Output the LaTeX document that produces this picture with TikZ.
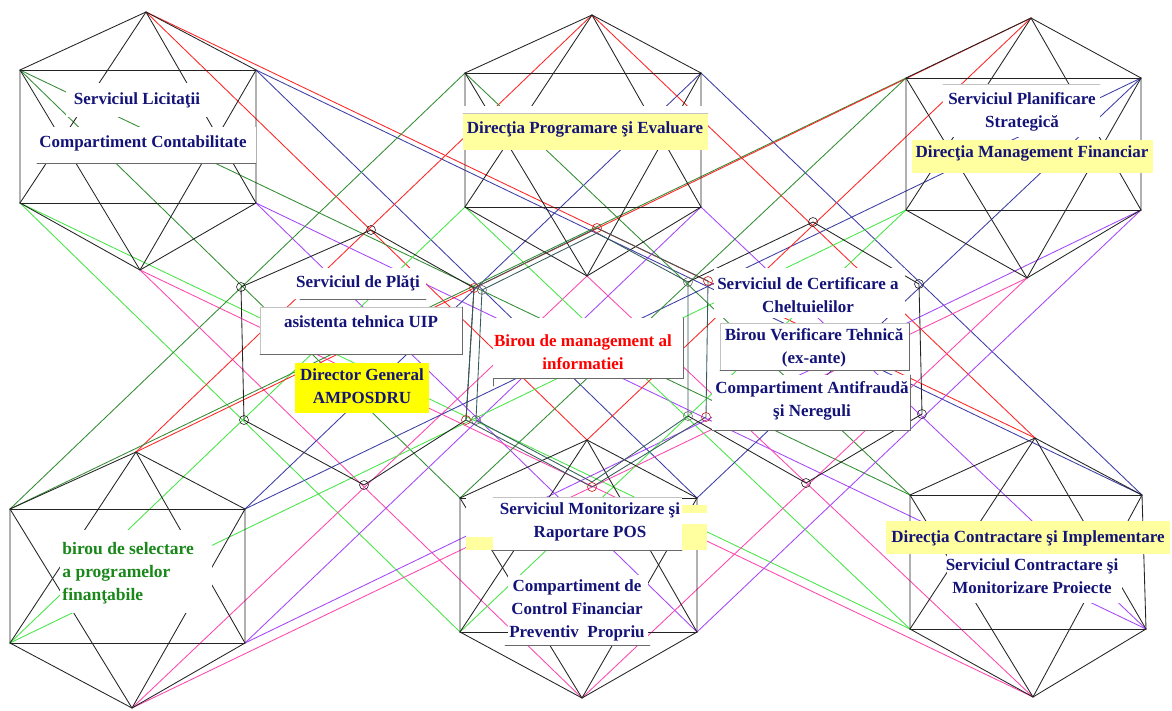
\documentclass[tikz,border=0pt]{standalone}
\usepackage{fontspec}
\setmainfont{Liberation Serif}
\definecolor{lnred}{RGB}{255,35,35}
\definecolor{lnnavy}{RGB}{60,60,165}
\definecolor{lndgreen}{RGB}{50,140,50}
\definecolor{lnlgreen}{RGB}{70,230,70}
\definecolor{lnpurple}{RGB}{165,70,250}
\definecolor{lnmag}{RGB}{255,70,175}
\definecolor{lnblack}{RGB}{35,35,35}
\definecolor{hexteal}{RGB}{55,90,90}
\definecolor{txtnavy}{RGB}{20,20,120}
\definecolor{txtgreen}{RGB}{25,135,25}
\definecolor{paleyel}{RGB}{255,255,160}
\definecolor{brightyel}{RGB}{255,255,0}
\definecolor{rimlight}{RGB}{195,195,195}
\definecolor{rimdark}{RGB}{105,105,105}
\begin{document}
\begin{tikzpicture}[x=1pt,y=-1pt,line width=0.85pt,line cap=round,
  blk/.style={draw=lnblack},
  lbl/.style={font=\fontsize{17}{23}\selectfont\bfseries,text=txtnavy,align=center,inner sep=0pt},
  glbl/.style={font=\fontsize{17.5}{23}\selectfont\bfseries,text=txtgreen,align=left,inner sep=0pt},
  rlbl/.style={font=\fontsize{17}{23}\selectfont\bfseries,text=red,align=center,inner sep=0pt},
  wbox/.style={fill=white,inner sep=0pt,outer sep=0pt},
  ybox/.style={fill=paleyel,inner sep=0pt,outer sep=0pt},
  vbox/.style={fill=brightyel,inner sep=0pt,outer sep=0pt},
  rim/.style={draw=rimdark,line width=0.9pt},
  rimlt/.style={draw=rimlight,line width=0.9pt},
  vtx/.style={line width=0.6pt},
]
\useasboundingbox (0,0) rectangle (1172,711);
\fill[white] (0,0) rectangle (1172,711);

% ---- vertices of the six outer units (apexes and box corners) ----
% A top-left, B top-middle, C top-right, D bottom-left, E bottom-middle, F bottom-right
\coordinate (At)  at (146,12);  \coordinate (ATL) at (20,70);   \coordinate (ATR) at (256,70);
\coordinate (ABL) at (20,203);  \coordinate (ABR) at (256,203); \coordinate (Ab)  at (140,270);
\coordinate (Bt)  at (592,15);  \coordinate (BTL) at (465,73);  \coordinate (BTR) at (701,73);
\coordinate (BBL) at (465,207); \coordinate (BBR) at (701,207); \coordinate (Bb)  at (587,276);
\coordinate (Ct)  at (1031,18); \coordinate (CTL) at (906,78);  \coordinate (CTR) at (1141,78);
\coordinate (CBL) at (906,210); \coordinate (CBR) at (1141,210);\coordinate (Cb)  at (1027,278);
\coordinate (Dt)  at (136,452); \coordinate (DTL) at (10,509);  \coordinate (DTR) at (245,509);
\coordinate (DBL) at (10,643);  \coordinate (DBR) at (245,643); \coordinate (Db)  at (132,708);
\coordinate (Et)  at (587,440); \coordinate (ETL) at (460,498); \coordinate (ETR) at (697,498);
\coordinate (EBL) at (460,632); \coordinate (EBR) at (697,632); \coordinate (Eb)  at (582,698);
\coordinate (Ft)  at (1035,438);\coordinate (FTL) at (910,495); \coordinate (FTR) at (1142,495);
\coordinate (FBL) at (910,629); \coordinate (FBR) at (1146,629);\coordinate (Fb)  at (1033,697);

% ---- cross links between the upper and the lower row, one colour per vertex ----
\foreach \ta/\bo in {A/E,A/F,B/D,B/F,C/D,C/E}{
  \draw[lndgreen] (\ta TL) -- (\bo TL);
  \draw[lnlgreen] (\ta BL) -- (\bo BL);
  \draw[lnpurple] (\ta BR) -- (\bo BR);
  \draw[lnnavy]   (\ta TR) -- (\bo TR);
  \draw[lnmag]    (\ta b) -- (\bo b);
  \draw[lnred]    (\ta t) -- (\bo t);
}

% ---- the six star-hexagon units ----
\foreach \un in {A,B,C,D,E,F}{
  \draw[blk] (\un t) -- (\un TL) -- (\un BL) -- (\un b) -- (\un BR) -- (\un TR) -- cycle;
  \draw[blk] (\un TL) -- (\un TR);
  \draw[blk] (\un BL) -- (\un BR);
  \draw[blk] (\un t) -- (\un BL);
  \draw[blk] (\un t) -- (\un BR);
  \draw[blk] (\un b) -- (\un TL);
  \draw[blk] (\un b) -- (\un TR);
}

% ---- central hexagons ----
\coordinate (L1) at (241,287); \coordinate (L2) at (371,230); \coordinate (L3) at (364,485); \coordinate (L4) at (244,420);
\coordinate (M1) at (474,288); \coordinate (M2) at (597,228); \coordinate (M3) at (708,281);
\coordinate (M4) at (706,417); \coordinate (M5) at (592,487); \coordinate (M6) at (466,420);
\coordinate (N1) at (482,290); \coordinate (N2) at (597,233); \coordinate (N3) at (688,282);
\coordinate (N4) at (688,416); \coordinate (N5) at (592,482); \coordinate (N6) at (476,420);
\coordinate (R1) at (813,222); \coordinate (R2) at (919,284); \coordinate (R3) at (922,414); \coordinate (R4) at (806,483);

\draw[blk] (L1) -- (L2) -- (M1) -- (M6) -- (L3) -- (L4) -- cycle;
\draw[draw=hexteal] (M1) -- (M2) -- (M3) -- (M4) -- (M5) -- (M6) -- cycle;
\draw[draw=hexteal] (N1) -- (N2) -- (N3) -- (N4) -- (N5) -- (N6) -- cycle;
\draw[blk] (N3) -- (R1) -- (R2) -- (R3) -- (R4) -- (N4);
\foreach \c in {L1,L2,L3,L4,R1,R2,R3,R4}{\draw[blk,vtx] (\c) circle (4.5);}
\foreach \c in {M1,M2,M3,M4,M5,M6}{\draw[draw=lnred!80!black,vtx] (\c) circle (4.5);}
\foreach \c in {N1,N3,N4,N6}{\draw[draw=rimdark,vtx] (\c) circle (4.5);}

% ---- label backgrounds ----
% top-left unit
\node[wbox,minimum width=146,minimum height=34] (licbg) at (139,100) {};
\node[wbox,minimum width=219,minimum height=36] (contbg) at (146.5,145) {};
% top-middle unit
\fill[white] (463,106) rectangle (708,113);
\node[ybox,minimum width=245,minimum height=37] (progbg) at (585.5,131.5) {};
% top-right unit
\node[wbox,minimum width=157,minimum height=53] (planbg) at (1021.5,110.5) {};
\node[ybox,minimum width=241,minimum height=33] (finbg) at (1032.5,156.5) {};
% bottom-left unit
\node[wbox,minimum width=152,minimum height=83] (selbg) at (136,571.5) {};
% bottom-middle unit
\node[ybox,minimum width=241,minimum height=45] (monyel) at (586.5,527.5) {};
\fill[white] (466,497) rectangle (493,537);
\fill[white] (682,513) rectangle (707,524);
\node[wbox,minimum width=189,minimum height=53] (monbg) at (587.5,523.5) {};
\node[wbox,minimum width=140,minimum height=70] (ctrlbg) at (578,610) {};
% bottom-right unit
\node[ybox,minimum width=284,minimum height=33] (impbg) at (1028,537.5) {};
\node[wbox,minimum width=175,minimum height=49] (cmpbg) at (1034.5,578.5) {};
% centre
\node[wbox,minimum width=136,minimum height=31] (platbg) at (358,283.5) {};
\node[wbox,minimum width=202,minimum height=47] (uipbg) at (361,330.5) {};
\node[vbox,minimum width=134,minimum height=50] (dirbg) at (362,388) {};
\node[wbox,minimum width=190,minimum height=60] (infbg) at (588,348) {};
\node[wbox,minimum width=191,minimum height=50] (certbg) at (809.5,293) {};
\node[wbox,minimum width=189,minimum height=47] (verbg) at (814.5,346.5) {};
\node[wbox,minimum width=198,minimum height=55] (frdbg) at (811,402.5) {};

% ---- rims and rules of the label panels ----
\draw[rim] (contbg.south west) -- (contbg.south east);
\draw[rimlt] (progbg.north west) -- (progbg.north east);
\draw[rimlt] (planbg.north west) -- (planbg.north east);
\draw[rimlt] (monbg.north west) -- (monbg.north east);
\draw[rim] (monbg.south west) -- (monbg.south east);
\draw[rim] ([xshift=-3]ctrlbg.south west) -- ([xshift=2]ctrlbg.south east);
\draw[rim] ([xshift=10]platbg.south west) -- (platbg.south east);
\draw[rimlt] (uipbg.south west) -- (uipbg.north west) -- (uipbg.north east);
\draw[rim] (uipbg.north east) -- (uipbg.south east) -- (uipbg.south west);
\draw[rim] (infbg.north east) -- (infbg.south east) -- (infbg.south west) -- ([yshift=-8]infbg.south west);
\draw[rimlt] (verbg.south west) -- (verbg.north west) -- (verbg.north east);
\draw[rim] (verbg.north east) -- (verbg.south east) -- (verbg.south west);
\draw[rim] (frdbg.north east) -- (frdbg.south east) -- (frdbg.south west);

% ---- labels ----
\node[lbl] (lic) at (137,100) {Serviciul Licitaţii};
\node[lbl] (cont) at (143,143) {Compartiment Contabilitate};
\node[lbl] (prog) at (585,129) {Direcţia Programare şi Evaluare};
\node[lbl] (plan) at (1022,112) {Serviciul Planificare\\Strategică};
\node[lbl] (fin) at (1032,153) {Direcţia Management Financiar};
\node[glbl,anchor=west] (sel) at (62,573) {birou de selectare\\a programelor\\finanţabile};
\node[lbl] (mon) at (590,522) {Serviciul Monitorizare şi\\Raportare POS};
\node[lbl] (ctrl) at (577,610) {Compartiment de\\Control Financiar\\Preventiv\ \ Propriu};
\node[lbl] (imp) at (1028,538) {Direcţia Contractare şi Implementare};
\node[lbl] (cmp) at (1032,576) {Serviciul Contractare şi\\Monitorizare Proiecte};
\node[lbl] (plat) at (358,283) {Serviciul de Plăţi};
\node[lbl] (uip) at (361,322) {asistenta tehnica UIP};
\node[lbl] (dir) at (362,386) {Director General\\AMPOSDRU};
\node[rlbl] (inf) at (583,352) {Birou de management al\\informatiei};
\node[lbl] (cert) at (808,295) {Serviciul de Certificare a\\Cheltuielilor};
\node[lbl] (ver) at (814,348) {Birou Verificare Tehnică\\(ex-ante)};
\node[lbl] (frd) at (812,401) {Compartiment Antifraudă\\şi Nereguli};
\end{tikzpicture}
\end{document}
